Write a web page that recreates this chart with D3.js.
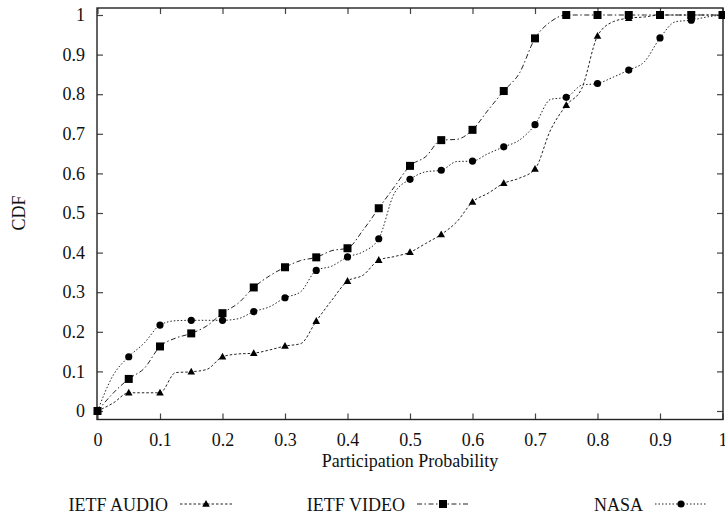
<!DOCTYPE html>
<html>
<head>
<meta charset="utf-8">
<script src="https://cdn.jsdelivr.net/npm/d3@7"></script>
<style>
    body { margin: 0; background: #fff; }
    svg { display: block; font-family: "Liberation Serif", "Times New Roman", serif; }
</style>
</head>
<body>
<svg id="cdf-chart" width="725" height="516"></svg>
<script>
// participation probability, every 0.025 (markers every 0.05)
const probs = [0, 0.025, 0.05, 0.075, 0.1, 0.125, 0.15, 0.175, 0.2, 0.225, 0.25, 0.275, 0.3, 0.325,
    0.35, 0.375, 0.4, 0.425, 0.45, 0.475, 0.5, 0.525, 0.55, 0.575, 0.6, 0.625, 0.65, 0.675, 0.7,
    0.725, 0.75, 0.775, 0.8, 0.825, 0.85, 0.875, 0.9, 0.925, 0.95, 0.975, 1];

const ietfAudio = [0, 0.02, 0.046, 0.046, 0.046, 0.097, 0.099, 0.105, 0.137, 0.144, 0.146, 0.154,
    0.164, 0.170, 0.227, 0.280, 0.328, 0.343, 0.381, 0.390, 0.401, 0.423, 0.446, 0.478, 0.528,
    0.550, 0.575, 0.588, 0.611, 0.710, 0.772, 0.815, 0.947, 0.983, 0.992, 0.995, 1, 1, 1, 1, 1];

const ietfVideo = [0, 0.045, 0.081, 0.108, 0.163, 0.184, 0.196, 0.215, 0.247, 0.272, 0.312, 0.341,
    0.363, 0.380, 0.388, 0.405, 0.411, 0.457, 0.512, 0.566, 0.619, 0.642, 0.684, 0.686, 0.710,
    0.760, 0.808, 0.853, 0.941, 0.983, 1, 1, 1, 1, 1, 1, 1, 1, 1, 1, 1];

const nasa = [0, 0.09, 0.137, 0.172, 0.217, 0.228, 0.229, 0.229, 0.229, 0.233, 0.251, 0.263,
    0.286, 0.301, 0.355, 0.366, 0.389, 0.402, 0.435, 0.550, 0.585, 0.604, 0.608, 0.630, 0.631,
    0.650, 0.667, 0.684, 0.723, 0.787, 0.792, 0.823, 0.827, 0.843, 0.861, 0.882, 0.942, 0.983,
    0.987, 0.995, 1];

const seriesNames = ["IETF AUDIO", "IETF VIDEO", "NASA"];
const xTicks = [0, 0.1, 0.2, 0.3, 0.4, 0.5, 0.6, 0.7, 0.8, 0.9, 1];
const yTicks = [0, 0.1, 0.2, 0.3, 0.4, 0.5, 0.6, 0.7, 0.8, 0.9, 1];

const series = [
    { name: seriesNames[0], values: ietfAudio, dash: "2.5,2", marker: "triangle" },
    { name: seriesNames[1], values: ietfVideo, dash: "5,2.5,1.5,2.5", marker: "square" },
    { name: seriesNames[2], values: nasa, dash: "1.5,2", marker: "circle" }
];

const svg = d3.select("#cdf-chart");

// frame edges
const frameLeft = 97, frameRight = 723, frameTop = 8, frameBottom = 419.5;

const xScale = d3.scaleLinear().domain([0, 1]).range([97.5, 722.5]);
const yScale = d3.scaleLinear().domain([0, 1]).range([411, 15]);

// axes with inward ticks
function styleAxis(g) {
    g.select(".domain").remove();
    g.selectAll(".tick line").attr("stroke", "#444").attr("stroke-width", 1.2);
    g.selectAll("text").attr("fill", "#111").style("font-size", "18px")
        .style("font-family", "'Liberation Serif', serif");
}

svg.append("g")
    .attr("transform", `translate(0, ${frameBottom})`)
    .call(d3.axisBottom(xScale).tickValues(xTicks).tickSizeInner(-6).tickSizeOuter(0)
        .tickPadding(14).tickFormat(d3.format("")))
    .call(styleAxis);

svg.append("g")
    .attr("transform", `translate(0, ${frameTop})`)
    .call(d3.axisTop(xScale).tickValues(xTicks).tickSizeInner(-6).tickSizeOuter(0).tickFormat(""))
    .call(styleAxis);

svg.append("g")
    .attr("transform", `translate(${frameLeft}, 0)`)
    .call(d3.axisLeft(yScale).tickValues(yTicks).tickSizeInner(-6).tickSizeOuter(0)
        .tickPadding(12).tickFormat(d3.format("")))
    .call(styleAxis);

svg.append("g")
    .attr("transform", `translate(${frameRight}, 0)`)
    .call(d3.axisRight(yScale).tickValues(yTicks).tickSizeInner(-6).tickSizeOuter(0).tickFormat(""))
    .call(styleAxis);

// border
svg.append("rect")
    .attr("x", frameLeft).attr("y", frameTop)
    .attr("width", frameRight - frameLeft).attr("height", frameBottom - frameTop)
    .attr("fill", "none").attr("stroke", "#222").attr("stroke-width", 1.4);

// axis titles
svg.append("text")
    .attr("x", 410).attr("y", 467)
    .attr("text-anchor", "middle")
    .style("font-size", "18px").attr("fill", "#111")
    .text("Participation Probability");

svg.append("text")
    .attr("transform", "translate(25, 213) rotate(-90)")
    .attr("text-anchor", "middle")
    .style("font-size", "18px").attr("fill", "#111")
    .text("CDF");

function drawMarker(g, type, cx, cy) {
    if (type === "square") {
        g.append("rect").attr("x", cx - 4).attr("y", cy - 4)
            .attr("width", 8).attr("height", 8).attr("fill", "#000");
    } else if (type === "circle") {
        g.append("circle").attr("cx", cx).attr("cy", cy).attr("r", 3.6).attr("fill", "#000");
    } else {
        g.append("path")
            .attr("d", `M${cx},${cy - 4}L${cx + 3.8},${cy + 2.8}L${cx - 3.8},${cy + 2.8}Z`)
            .attr("fill", "#000");
    }
}

const line = d3.line()
    .x(function (d) { return xScale(d[0]); })
    .y(function (d) { return yScale(d[1]); })
    .curve(d3.curveMonotoneX);

series.forEach(function (s) {
    const pts = probs.map(function (p, i) { return [p, s.values[i]]; });
    svg.append("path")
        .datum(pts)
        .attr("d", line)
        .attr("fill", "none")
        .attr("stroke", "#222")
        .attr("stroke-width", 1)
        .attr("stroke-dasharray", s.dash);

    const mg = svg.append("g");
    pts.filter(function (d, i) { return i % 2 === 0; }).forEach(function (d) {
        drawMarker(mg, s.marker, xScale(d[0]), yScale(d[1]));
    });
});

// legend row along the bottom
const legendX = [168, 405, 643];
series.forEach(function (s, i) {
    const lx = legendX[i];
    svg.append("text")
        .attr("x", lx).attr("y", 511)
        .attr("text-anchor", "end")
        .style("font-size", "18px").attr("fill", "#111")
        .text(s.name);
    svg.append("line")
        .attr("x1", lx + 12).attr("x2", lx + 64)
        .attr("y1", 504).attr("y2", 504)
        .attr("stroke", "#222").attr("stroke-width", 1)
        .attr("stroke-dasharray", s.dash);
    drawMarker(svg.append("g"), s.marker, lx + 38, 504);
});
</script>
</body>
</html>
